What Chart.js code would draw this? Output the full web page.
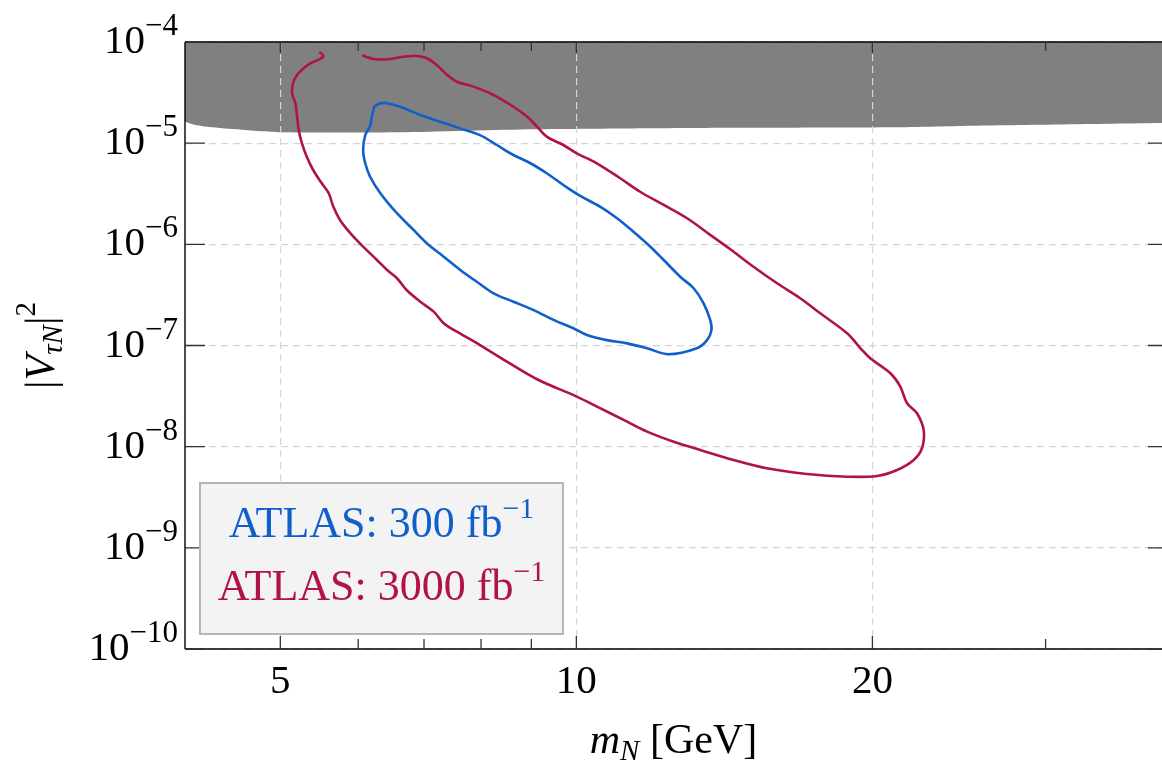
<!DOCTYPE html>
<html>
<head>
<meta charset="utf-8">
<script src="https://cdn.jsdelivr.net/npm/chart.js@4.4.0/dist/chart.umd.min.js"></script>
<style>
  html, body { margin: 0; padding: 0; background: #fff; overflow: hidden; }
  #wrap { position: relative; width: 1162px; height: 771px; }
</style>
</head>
<body>
<div id="wrap"><canvas id="chart"></canvas></div>
<script>
// Sensitivity contours in the (m_N, |V_tauN|^2) plane, m_N in GeV
const blueMass = [6.23, 6.32, 6.42, 6.62, 6.94, 7.27, 7.62, 7.98, 8.30, 8.63, 8.98, 9.33, 9.70, 10.09, 10.57, 11.00, 11.43, 11.89, 12.27, 12.76, 13.16, 13.47, 13.68, 13.72, 13.58, 13.26, 12.41, 11.80, 11.26, 10.74, 10.25, 9.93, 9.48, 9.05, 8.63, 8.24, 7.92, 7.62, 7.33, 7.05, 6.83, 6.57, 6.32, 6.17, 6.10, 6.07, 6.10, 6.17, 6.19];
const blueMixing = [2.29e-5, 2.48e-5, 2.48e-5, 2.29e-5, 1.90e-5, 1.63e-5, 1.40e-5, 1.20e-5, 9.59e-6, 7.64e-6, 6.33e-6, 5.04e-6, 3.86e-6, 3.01e-6, 2.36e-6, 1.81e-6, 1.33e-6, 9.48e-7, 7.00e-7, 4.76e-7, 3.68e-7, 2.61e-7, 1.79e-7, 1.42e-7, 1.13e-7, 9.39e-8, 8.19e-8, 9.39e-8, 1.05e-7, 1.13e-7, 1.27e-7, 1.48e-7, 1.79e-7, 2.24e-7, 2.71e-7, 3.28e-7, 4.27e-7, 5.58e-7, 7.55e-7, 1.02e-6, 1.39e-6, 2.03e-6, 3.20e-6, 4.66e-6, 6.33e-6, 8.56e-6, 1.20e-5, 1.48e-5, 1.76e-5];

const redMass = [5.49, 5.53, 5.48, 5.38, 5.28, 5.20, 5.15, 5.14, 5.18, 5.20, 5.22, 5.26, 5.32, 5.40, 5.51, 5.60, 5.66, 5.75, 5.89, 6.07, 6.27, 6.42, 6.57, 6.72, 6.94, 7.16, 7.33, 7.56, 7.98, 8.50, 9.12, 10.01, 10.57, 11.17, 11.80, 12.56, 13.37, 14.45, 15.62, 17.16, 18.85, 20.22, 21.19, 22.03, 22.46, 22.55, 22.20, 21.69, 21.35, 20.86, 19.90, 19.45, 18.85, 17.70, 16.89, 16.00, 15.14, 14.34, 13.68, 12.96, 12.27, 11.61, 11.08, 10.49, 10.01, 9.70, 9.33, 9.12, 8.91, 8.63, 8.24, 7.86, 7.56, 7.39, 7.21, 7.05, 6.88, 6.67, 6.42, 6.22, 6.07];
const redMixing = [7.84e-5, 7.27e-5, 6.75e-5, 6.24e-5, 5.50e-5, 4.72e-5, 3.91e-5, 3.11e-5, 2.48e-5, 1.83e-5, 1.35e-5, 9.97e-6, 7.35e-6, 5.43e-6, 4.01e-6, 3.20e-6, 2.36e-6, 1.74e-6, 1.29e-6, 9.48e-7, 7.00e-7, 5.58e-7, 4.62e-7, 3.54e-7, 2.71e-7, 2.16e-7, 1.66e-7, 1.37e-7, 1.01e-7, 6.92e-8, 4.64e-8, 3.12e-8, 2.40e-8, 1.84e-8, 1.41e-8, 1.12e-8, 9.27e-9, 7.39e-9, 6.11e-9, 5.37e-9, 5.05e-9, 5.13e-9, 5.88e-9, 7.39e-9, 9.64e-9, 1.46e-8, 2.14e-8, 2.69e-8, 3.92e-8, 5.31e-8, 7.48e-8, 9.39e-8, 1.32e-7, 2.08e-7, 2.93e-7, 4.12e-7, 6.01e-7, 8.93e-7, 1.24e-6, 1.81e-6, 2.45e-6, 3.31e-6, 4.50e-6, 6.33e-6, 7.94e-6, 9.59e-6, 1.16e-5, 1.46e-5, 1.83e-5, 2.29e-5, 2.99e-5, 3.62e-5, 4.05e-5, 4.72e-5, 5.93e-5, 6.90e-5, 7.27e-5, 7.16e-5, 6.75e-5, 6.79e-5, 7.32e-5];

// lower edge of the already excluded (grey) region
const excludedMass = [4.0, 4.10, 4.19, 4.50, 5.0, 6.62, 9.04, 14.34, 21.35, 24.75, 39.4];
const excludedMixing = [1.63e-5, 1.51e-5, 1.46e-5, 1.37e-5, 1.28e-5, 1.28e-5, 1.37e-5, 1.42e-5, 1.44e-5, 1.48e-5, 1.58e-5];

const xMajorTicks = [5, 10, 20];
const xMinorTicks = [6, 7, 8, 9, 30];
const yDecades = [-10, -9, -8, -7, -6, -5, -4];

const legendLabels = ['ATLAS: 300 fb', 'ATLAS: 3000 fb'];
const legendExponent = '\u22121';

const BLUE = '#1060cc';
const RED = '#b0124a';
const SERIF = "'Liberation Serif', 'Times New Roman', serif";

const toPoints = (xs, ys) => xs.map((x, i) => ({ x: x, y: ys[i] }));

// draw a row of text pieces (for sub/superscripts) starting, ending or centred at x
function drawRuns(ctx, runs, x, y, align) {
    let total = 0;
    runs.forEach(r => {
        ctx.font = r.font;
        r.w = ctx.measureText(r.text).width;
        total += r.w;
    });
    let cx = x;
    if (align === 'right') cx = x - total;
    else if (align === 'center') cx = x - total / 2;
    runs.forEach(r => {
        ctx.font = r.font;
        ctx.fillText(r.text, cx, y + (r.dy || 0));
        cx += r.w;
    });
}

const axisDecor = {
    id: 'axisDecor',
    afterDraw(chart) {
        const { ctx, chartArea: a, scales: { x, y } } = chart;
        ctx.save();

        // frame (top, left, bottom)
        ctx.strokeStyle = '#000';
        ctx.lineWidth = 1.4;
        ctx.beginPath();
        ctx.moveTo(a.left, a.top); ctx.lineTo(a.right, a.top);
        ctx.moveTo(a.left, a.top); ctx.lineTo(a.left, a.bottom);
        ctx.moveTo(a.left, a.bottom); ctx.lineTo(a.right, a.bottom);
        ctx.stroke();

        // inward tick marks
        ctx.strokeStyle = '#333';
        ctx.lineWidth = 1.3;
        ctx.beginPath();
        yDecades.forEach(d => {
            const py = y.getPixelForValue(Math.pow(10, d));
            ctx.moveTo(a.left, py); ctx.lineTo(a.left + 20, py);
            ctx.moveTo(a.right - 14, py); ctx.lineTo(a.right, py);
        });
        xMajorTicks.forEach(v => {
            const px = x.getPixelForValue(v);
            ctx.moveTo(px, a.bottom); ctx.lineTo(px, a.bottom - 13);
            ctx.moveTo(px, a.top); ctx.lineTo(px, a.top + 11);
        });
        xMinorTicks.forEach(v => {
            const px = x.getPixelForValue(v);
            ctx.moveTo(px, a.bottom); ctx.lineTo(px, a.bottom - 10);
            ctx.moveTo(px, a.top); ctx.lineTo(px, a.top + 9);
        });
        ctx.stroke();

        // tick labels
        ctx.fillStyle = '#000';
        ctx.textAlign = 'left';
        ctx.textBaseline = 'alphabetic';
        yDecades.forEach(d => {
            const py = y.getPixelForValue(Math.pow(10, d));
            drawRuns(ctx, [
                { text: '10', font: `41px ${SERIF}` },
                { text: '\u2212' + Math.abs(d), font: `31px ${SERIF}`, dy: -18 }
            ], a.left - 7, py + 11, 'right');
        });
        xMajorTicks.forEach(v => {
            drawRuns(ctx, [{ text: String(v), font: `41px ${SERIF}` }], x.getPixelForValue(v), a.bottom + 44, 'center');
        });

        // x title: m_N [GeV]
        drawRuns(ctx, [
            { text: 'm', font: `italic 42px ${SERIF}` },
            { text: 'N', font: `italic 29px ${SERIF}`, dy: 7 },
            { text: ' [GeV]', font: `42px ${SERIF}` }
        ], (a.left + a.right) / 2, 753, 'center');

        // y title: |V_tauN|^2, rotated
        ctx.save();
        ctx.translate(54, (a.top + a.bottom) / 2);
        ctx.rotate(-Math.PI / 2);
        drawRuns(ctx, [
            { text: '|', font: `43px ${SERIF}` },
            { text: 'V', font: `italic 42px ${SERIF}` },
            { text: '\u03c4N', font: `italic 29px ${SERIF}`, dy: 8 },
            { text: '|', font: `43px ${SERIF}` },
            { text: '2', font: `29px ${SERIF}`, dy: -19 }
        ], 0, 0, 'center');
        ctx.restore();

        // legend box
        const bx = 200, by = 483, bw = 363, bh = 151;
        ctx.fillStyle = '#f3f3f3';
        ctx.fillRect(bx, by, bw, bh);
        ctx.strokeStyle = '#b5b5b5';
        ctx.lineWidth = 2;
        ctx.strokeRect(bx, by, bw, bh);
        [BLUE, RED].forEach((c, i) => {
            ctx.fillStyle = c;
            drawRuns(ctx, [
                { text: legendLabels[i], font: `44px ${SERIF}` },
                { text: legendExponent, font: `30px ${SERIF}`, dy: -19 }
            ], bx + bw / 2, by + 54 + i * 63, 'center');
        });

        ctx.restore();
    }
};

const bluePoints = toPoints(blueMass, blueMixing);
bluePoints.push(bluePoints[0]);

new Chart(document.getElementById('chart'), {
    type: 'line',
    data: {
        datasets: [
            {
                label: legendLabels[0],
                data: bluePoints,
                borderColor: BLUE,
                borderWidth: 2.6,
                tension: 0.35,
                fill: false
            },
            {
                label: legendLabels[1],
                data: toPoints(redMass, redMixing),
                borderColor: RED,
                borderWidth: 2.6,
                tension: 0.35,
                fill: false
            },
            {
                label: 'excluded',
                data: toPoints(excludedMass, excludedMixing),
                borderColor: 'rgba(0,0,0,0)',
                backgroundColor: '#808080',
                borderWidth: 1,
                tension: 0.2,
                fill: 'end'
            }
        ]
    },
    options: {
        responsive: true,
        maintainAspectRatio: false,
        animation: false,
        events: [],
        layout: { padding: { left: 185, top: 42, right: 0, bottom: 122 } },
        elements: {
            point: { radius: 0 },
            line: { borderJoinStyle: 'round', borderCapStyle: 'round' }
        },
        plugins: {
            legend: { display: false },
            tooltip: { enabled: false },
            filler: { drawTime: 'beforeDraw' }
        },
        scales: {
            x: {
                type: 'logarithmic',
                min: 4,
                max: 39.4,
                afterBuildTicks: s => { s.ticks = xMajorTicks.map(v => ({ value: v })); },
                afterFit: s => { s.height = 0; },
                ticks: { display: false },
                grid: { drawTicks: false, color: '#d6d6d6', lineWidth: 1.2 },
                border: { display: false, dash: [7, 5] }
            },
            y: {
                type: 'logarithmic',
                min: 1e-10,
                max: 1e-4,
                afterBuildTicks: s => { s.ticks = yDecades.map(d => ({ value: Math.pow(10, d) })); },
                afterFit: s => { s.width = 0; },
                ticks: { display: false },
                grid: { drawTicks: false, color: '#d6d6d6', lineWidth: 1.2 },
                border: { display: false, dash: [7, 5] }
            }
        }
    },
    plugins: [axisDecor]
});
</script>
</body>
</html>
